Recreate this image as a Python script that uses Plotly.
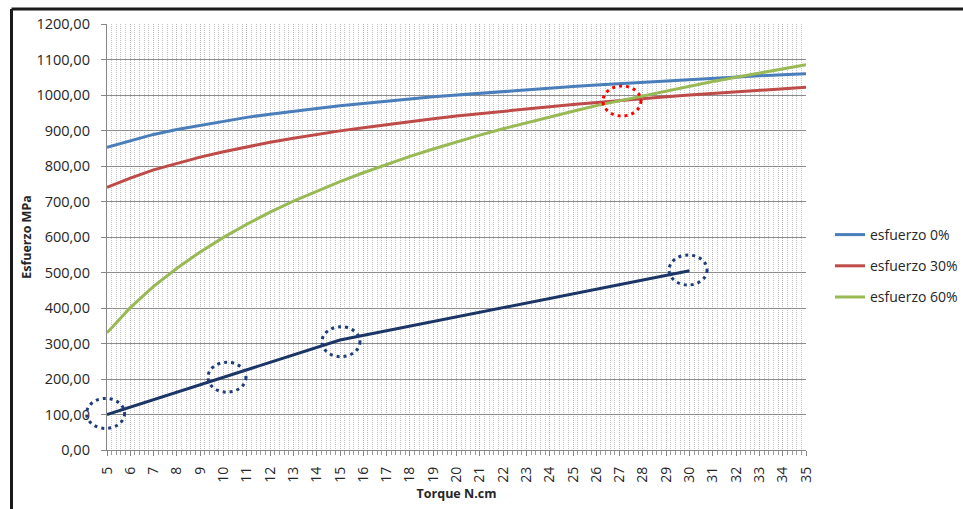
import plotly.graph_objects as go

# Torque (N.cm) sampled at whole units
torque = [5, 6, 7, 8, 9, 10, 11, 12, 13, 14, 15, 16, 17, 18, 19, 20,
          21, 22, 23, 24, 25, 26, 27, 28, 29, 30, 31, 32, 33, 34, 35]

# Stress (MPa) per load case
esfuerzo_0 = [853, 872, 889, 903, 915, 927, 937, 946, 955, 962, 970, 977, 983, 989, 995, 1000,
              1006, 1011, 1015, 1020, 1024, 1028, 1032, 1036, 1040, 1044, 1047, 1050, 1054, 1057, 1060]
esfuerzo_30 = [740, 766, 789, 808, 825, 840, 854, 867, 878, 889, 899, 908, 917, 926, 933, 941,
               948, 955, 961, 967, 973, 979, 984, 990, 995, 1000, 1004, 1009, 1013, 1018, 1022]
esfuerzo_60 = [330, 401, 461, 512, 558, 599, 636, 670, 701, 729, 756, 781, 805, 827, 848, 868,
               887, 905, 922, 939, 954, 970, 984, 998, 1012, 1025, 1038, 1050, 1062, 1074, 1085]

# Measured reference line (no legend entry)
torque_ref = [5, 10, 15, 30]
esfuerzo_ref = [100, 205, 310, 505]

# Highlighted points (dotted rings)
ring_blue_x = [4.94, 10.15, 15.04, 29.94]
ring_blue_y = [103, 205, 305, 507]
ring_red_x = [27.1]
ring_red_y = [983]

y_ticks = [0, 100, 200, 300, 400, 500, 600, 700, 800, 900, 1000, 1100, 1200]
y_tick_text = ["0,00", "100,00", "200,00", "300,00", "400,00", "500,00", "600,00",
               "700,00", "800,00", "900,00", "1000,00", "1100,00", "1200,00"]
x_ticks = list(range(5, 36))

X_RANGE = [5, 35]
Y_RANGE = [0, 1200]

FONT = "Open Sans"
TXT = "#262626"

W, H = 963, 509
L, R, T, B = 107, 157, 24, 59
pw, ph = W - L - R, H - T - B

fig = go.Figure()

series = [
    ("esfuerzo 0%", esfuerzo_0, "#4a7ebb"),
    ("esfuerzo 30%", esfuerzo_30, "#be4b48"),
    ("esfuerzo 60%", esfuerzo_60, "#98b954"),
]
for i, (name, vals, col) in enumerate(series):
    fig.add_trace(go.Scatter(
        x=torque, y=vals, mode="lines", name=name,
        legendgroup=f"g{i}",
        line=dict(color=col, width=3),
    ))

fig.add_trace(go.Scatter(
    x=torque_ref, y=esfuerzo_ref, mode="lines", showlegend=False,
    line=dict(color="#1b3566", width=3),
))


def to_paper(v, rng):
    return (v - rng[0]) / (rng[1] - rng[0])


# Rings are anchored in paper space so they are not clipped at the plot edge
shapes = []
for xs, ys, col in ((ring_blue_x, ring_blue_y, "#1f3d7a"), (ring_red_x, ring_red_y, "#ff0000")):
    for cx, cy in zip(xs, ys):
        shapes.append(dict(
            type="circle", xref="paper", yref="paper",
            xsizemode="pixel", ysizemode="pixel",
            xanchor=to_paper(cx, X_RANGE), yanchor=to_paper(cy, Y_RANGE),
            x0=-19, x1=19, y0=-15, y1=15,
            line=dict(color=col, width=3, dash="3px,4px"),
        ))

# Outer frame (left and top edges)
fx = (11.5 - L) / pw
fy = (H - B - 9) / ph
shapes.append(dict(type="line", xref="paper", yref="paper",
                   x0=fx, x1=fx, y0=fy, y1=(H - B - 520) / ph,
                   line=dict(color="#1a1a1a", width=3)))
shapes.append(dict(type="line", xref="paper", yref="paper",
                   x0=fx, x1=(980 - L) / pw, y0=fy, y1=fy,
                   line=dict(color="#1a1a1a", width=3)))

fig.update_layout(
    width=W, height=H,
    margin=dict(l=L, r=R, t=T, b=B, autoexpand=False),
    paper_bgcolor="white", plot_bgcolor="white",
    font=dict(family=FONT, size=13, color=TXT),
    shapes=shapes,
    showlegend=True,
    legend=dict(
        x=(830 - L) / pw, xanchor="left",
        y=(H - B - 219) / ph, yanchor="top",
        font=dict(family=FONT, size=14, color=TXT),
        tracegroupgap=10, bgcolor="rgba(0,0,0,0)",
    ),
    xaxis=dict(
        range=X_RANGE, tickmode="array", tickvals=x_ticks,
        ticktext=[str(v) for v in x_ticks], tickangle=-90,
        tickfont=dict(family=FONT, size=14, color=TXT),
        showline=True, linecolor="#868686", linewidth=1.3,
        ticks="outside", ticklen=5, tickcolor="#868686", ticklabelstandoff=5,
        showgrid=True, gridcolor="#b4b4b4", gridwidth=1, griddash="1px,1px",
        minor=dict(dtick=0.2, tick0=5, showgrid=True, gridcolor="#c4c4c4",
                   gridwidth=1, griddash="1px,1px", ticks="outside", ticklen=4,
                   tickcolor="#9a9a9a"),
        zeroline=False,
        title=dict(text="<b>Torque N.cm</b>", font=dict(family=FONT, size=12.5, color=TXT),
                   standoff=7),
    ),
    yaxis=dict(
        range=Y_RANGE, tickmode="array", tickvals=y_ticks, ticktext=y_tick_text,
        tickfont=dict(family=FONT, size=14.5, color=TXT),
        showline=True, linecolor="#868686", linewidth=1.3,
        ticks="outside", ticklen=5, tickcolor="#868686", ticklabelstandoff=8,
        showgrid=True, gridcolor="#8c8c8c", gridwidth=1.3,
        zeroline=False,
        title=dict(text="<b>Esfuerzo MPa</b>", font=dict(family=FONT, size=12.5, color=TXT),
                   standoff=2),
    ),
)

fig.write_html("out.html")
